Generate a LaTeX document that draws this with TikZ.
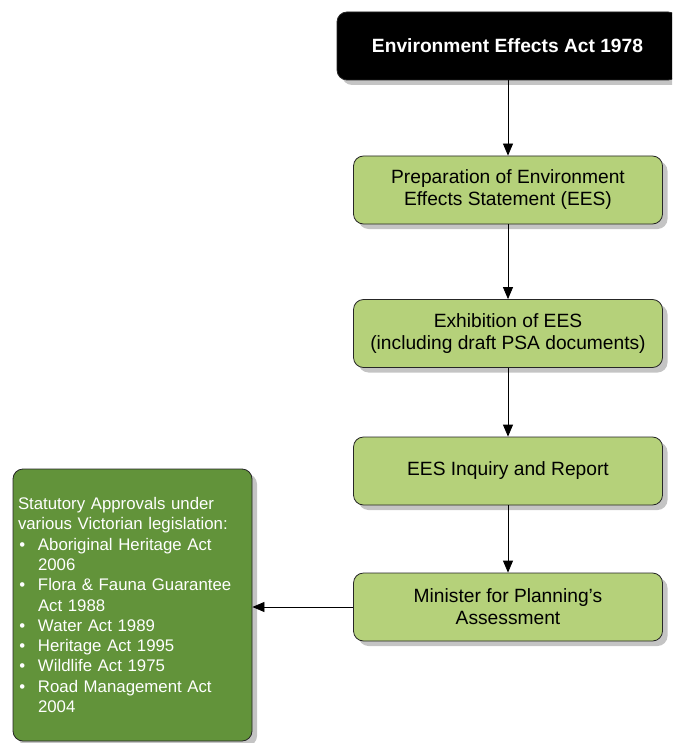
\documentclass[tikz,border=0pt]{standalone}
\usepackage{fontspec}
\setmainfont{Liberation Sans}
\usetikzlibrary{shadows,arrows.meta}
\definecolor{lightgr}{RGB}{181,209,122}
\definecolor{darkgr}{RGB}{98,147,58}
\definecolor{shade}{RGB}{196,196,196}
\tikzset{
  box/.style={draw=black!85, line width=0.8pt, rounded corners=10pt,
    drop shadow={shadow xshift=5pt, shadow yshift=-5pt, fill=shade, opacity=1},
    align=center, inner sep=0pt, font=\fontsize{19.2}{22}\selectfont},
  stage/.style={box, fill=lightgr, text=black, minimum width=309pt, minimum height=68pt},
  act/.style={box, fill=black, text=white, minimum width=341pt, minimum height=68pt,
    font=\fontsize{19.2}{22}\selectfont\bfseries},
  approvals/.style={box, fill=darkgr, text=white, minimum width=239pt, minimum height=272pt,
    align=left, text width=229pt, font=\fontsize{16.8}{20.3}\selectfont},
  arr/.style={line width=0.8pt, -{Triangle[length=12pt,width=10pt]}}
}
\newcommand{\itm}[1]{\makebox[20pt][l]{\hspace{1.5pt}\textbullet}#1}
\newcommand{\cont}[1]{\hspace*{20pt}#1}
\begin{document}
\begin{tikzpicture}[x=1pt,y=-1pt]
  \useasboundingbox (0,0) rectangle (672,743);
  \clip (0,0) rectangle (672,743);
  \node[act] (ea) at (507.5,46) {Environment Effects Act 1978};
  \node[stage] (prep) at (508,190) {Preparation of Environment\\Effects Statement (EES)};
  \node[stage] (exh) at (508,333.5) {Exhibition of EES\\(including draft PSA documents)};
  \node[stage] (inq) at (508,471) {EES Inquiry and Report};
  \node[stage] (min) at (508,607) {Minister for Planning’s\\Assessment};
  \node[approvals] (stat) at (132.5,605) {Statutory Approvals under\\
    various Victorian legislation:\\
    \itm{Aboriginal Heritage Act}\\
    \cont{2006}\\
    \itm{Flora \& Fauna Guarantee}\\
    \cont{Act 1988}\\
    \itm{Water Act 1989}\\
    \itm{Heritage Act 1995}\\
    \itm{Wildlife Act 1975}\\
    \itm{Road Management Act}\\
    \cont{2004}};
  \draw[arr] (ea.south -| prep.north) -- (prep.north);
  \draw[arr] (prep) -- (exh);
  \draw[arr] (exh) -- (inq);
  \draw[arr] (inq) -- (min);
  \draw[arr] (min.west) -- (stat.east |- min.west);
\end{tikzpicture}
\end{document}
